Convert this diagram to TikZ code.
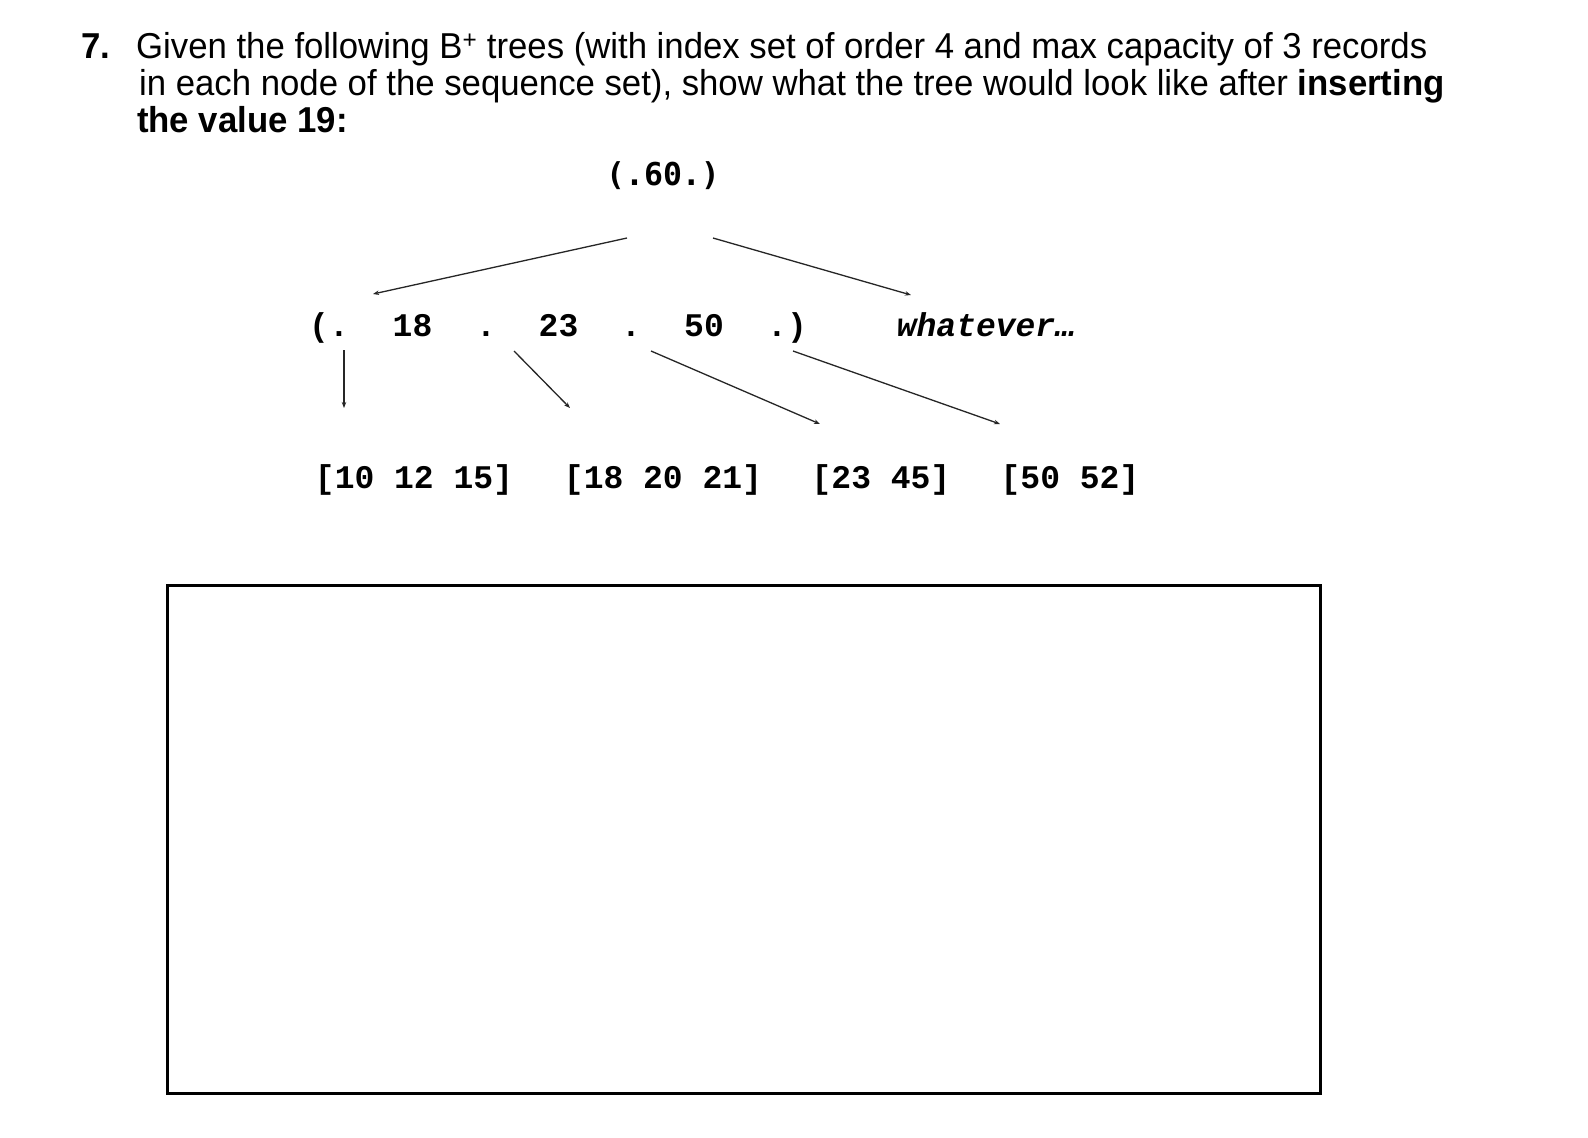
\documentclass[tikz,border=0pt]{standalone}
\usepackage{fontspec}
\setmainfont[FakeStretch=0.965]{Liberation Sans}
\newfontfamily\monofont{Liberation Mono}
\newfontfamily\rootfont{DejaVu Sans Mono}
\usetikzlibrary{arrows.meta}
\tikzset{
  body/.style={anchor=base west, inner sep=0pt, font=\fontsize{36}{36}\selectfont},
  tok/.style={anchor=base, inner sep=0pt, font=\monofont\bfseries\fontsize{33}{33}\selectfont},
  rootnode/.style={anchor=base, inner sep=0pt, font=\rootfont\bfseries\fontsize{31.5}{31.5}\selectfont},
  ptr/.style={draw=black!85, line width=1.3pt, -{Stealth[length=6pt,width=4.5pt]}},
  answerbox/.style={draw=black, line width=3pt}
}
\begin{document}
\begin{tikzpicture}[x=1pt,y=-1pt]
\useasboundingbox[fill=white] (0,0) rectangle (1588,1138);
% question text
\node[body] (num) at (81,58) {\textbf{7.}};
\node[body] (l1) at (136,58) {Given the following B\textsuperscript{+} trees (with index set of order 4 and max capacity of 3 records};
\node[body] (l2) at (139,95.5) {in each node of the sequence set), show what the tree would look like after \textbf{inserting}};
\node[body] (l3) at (137,132.5) {\textbf{the value 19:}};
% root
\node[rootnode] (root) at (663,185) {(.60.)};
% index node
\node[tok] (p0) at (329,336) {(.};
\node[tok] (k18) at (412.5,336) {18};
\node[tok] (p1) at (486,336) {.};
\node[tok] (k23) at (558.5,336) {23};
\node[tok] (p2) at (631,336) {.};
\node[tok] (k50) at (704,336) {50};
\node[tok] (p3) at (787,336) {.)};
\node[tok, font=\monofont\bfseries\itshape\fontsize{33}{33}\selectfont] (what) at (986,336) {whatever…};
% leaves
\node[tok] (s1) at (414,488) {[10 12 15]};
\node[tok] (s2) at (663,488) {[18 20 21]};
\node[tok] (s3) at (881,488) {[23 45]};
\node[tok] (s4) at (1070,488) {[50 52]};
% connector end points
\coordinate (rl) at (627,238);
\coordinate (rr) at (713,238);
\coordinate (il) at (373,294);
\coordinate (ir) at (911,295);
\coordinate (a0) at (344,350);
\coordinate (b0) at (344,408);
\coordinate (a1) at (514,351);
\coordinate (b1) at (570,408);
\coordinate (a2) at (651,351);
\coordinate (b2) at (820,424);
\coordinate (a3) at (793,351);
\coordinate (b3) at (1000,424);
\draw[ptr] (rl) -- (il);
\draw[ptr] (rr) -- (ir);
\draw[ptr] (a0) -- (b0);
\draw[ptr] (a1) -- (b1);
\draw[ptr] (a2) -- (b2);
\draw[ptr] (a3) -- (b3);
% answer box
\coordinate (bx1) at (167,585);
\coordinate (bx2) at (1320,1093);
\draw[answerbox] (bx1) rectangle (bx2);
\end{tikzpicture}
\end{document}
